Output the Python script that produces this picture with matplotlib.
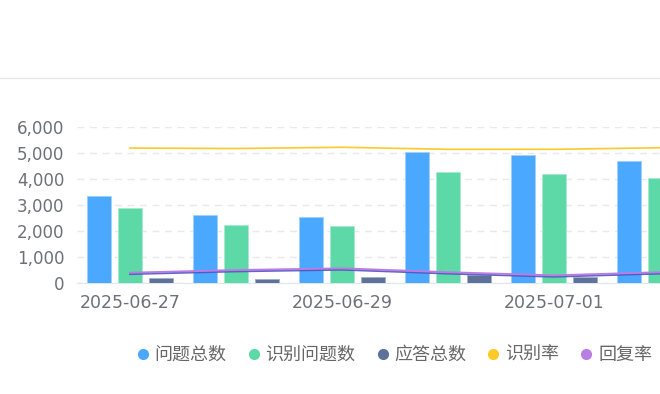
import matplotlib
matplotlib.use("Agg")
import matplotlib.pyplot as plt
import matplotlib.patheffects as pe
from matplotlib.lines import Line2D
from matplotlib.ticker import FuncFormatter
import numpy as np

plt.rcParams['font.family'] = ['Noto Sans CJK SC', 'DejaVu Sans']

dates = ["2025-06-27", "2025-06-28", "2025-06-29", "2025-06-30", "2025-07-01", "2025-07-02"]
total_questions = [3350, 2630, 2540, 5040, 4920, 4690]
recognized = [2880, 2245, 2190, 4270, 4190, 4040]
answers = [190, 170, 230, 300, 230, 250]
recog_rate = [0.865, 0.862, 0.870, 0.857, 0.857, 0.867]
reply_rate = [0.066, 0.083, 0.094, 0.069, 0.049, 0.069]

names = ["问题总数", "识别问题数", "应答总数", "识别率", "回复率"]
colors = ["#4ba8ff", "#5cd9a6", "#5d7199", "#ffc928", "#b97ee2"]

W, H = 660, 394
fig = plt.figure(figsize=(W / 100, H / 100), dpi=100)

# thin rule across the top of the card
fig.add_artist(Line2D([0, 1], [1 - 78 / H, 1 - 78 / H], color="#e6e6e6", lw=1))

step = 106  # px per category
left = 77
n = len(dates)
ax = fig.add_axes([left / W, (H - 283) / H, n * step / W, 156 / H])
x = np.arange(n)
bw = 0.22
off = 0.293
ax.bar(x - off, total_questions, bw, color=colors[0], edgecolor="#9fd0ff", lw=0.6, zorder=3)
ax.bar(x, recognized, bw, color=colors[1], edgecolor="#a5ecd0", lw=0.6, zorder=3)
ax.bar(x + off, answers, bw, color=colors[2], edgecolor="#a0b0cc", lw=0.6, zorder=3)

ax.set_xlim(-0.5, n - 0.5)
ax.set_ylim(0, 6000)
ax.set_yticks(range(0, 6001, 1000))
ax.yaxis.set_major_formatter(FuncFormatter(lambda v, p: f"{int(v):,}"))
ax.set_xticks(x[::2])
ax.set_xticklabels(dates[::2])
ax.tick_params(axis="both", length=0, labelsize=12, colors="#6e7079")
ax.tick_params(axis="x", pad=8, labelsize=12.5)
ax.tick_params(axis="y", pad=9)
for lab in ax.get_xticklabels() + ax.get_yticklabels():
    lab.set_fontfamily("DejaVu Sans")
for s in ["top", "right", "left"]:
    ax.spines[s].set_visible(False)
ax.spines["bottom"].set_color("#e0e6f1")
ax.grid(axis="y", color="#e6e9ef", linestyle=(0, (5, 4)), lw=1, zorder=0)
ax.set_axisbelow(True)

ax2 = ax.twinx()
ax2.set_ylim(0, 1)
ax2.axis("off")
ax2.plot(x, recog_rate, color=colors[3], lw=1.2, zorder=4)
ax2.plot(x, reply_rate, color=colors[4], lw=1.4, zorder=4,
         path_effects=[pe.SimpleLineShadow(offset=(0, -1), shadow_color="#4f55c0", alpha=0.9),
                       pe.Normal()])

handles = [Line2D([], [], marker="o", ls="", color=c, markersize=7) for c in colors]
fig.legend(handles, names, loc="center", bbox_to_anchor=(393 / W, 1 - 355 / H), ncol=5,
           frameon=False, fontsize=13, labelcolor="#666666", handletextpad=0.15,
           columnspacing=1.0, handlelength=1.0)

fig.savefig("out.png", dpi=100)
